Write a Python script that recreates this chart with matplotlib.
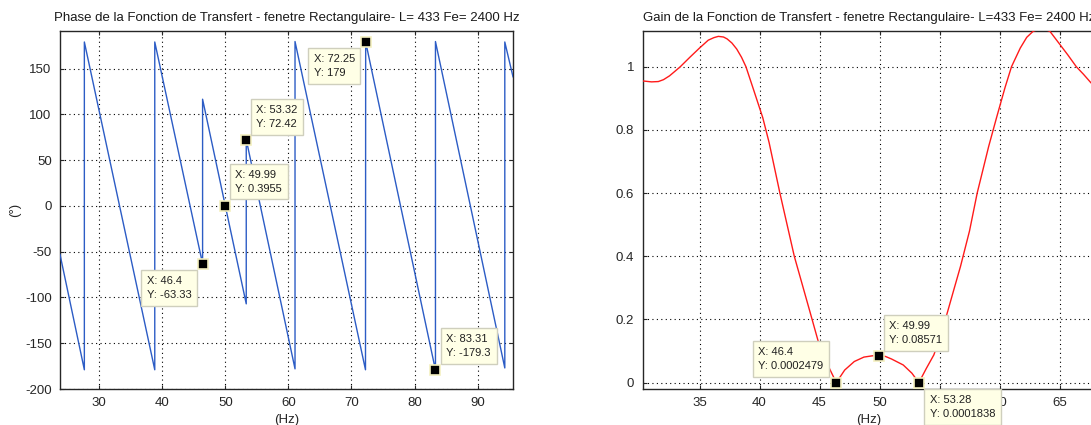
import matplotlib
matplotlib.use("Agg")
import matplotlib.pyplot as plt

plt.rcParams['font.family'] = ['Liberation Sans', 'DejaVu Sans']
plt.rcParams['axes.unicode_minus'] = False

# ---------------- data ----------------
# phase polyline vertices (Hz, degrees)
phase_freq = [23.8, 27.66, 27.66, 38.82, 38.82, 46.4, 46.4, 49.99, 53.32, 53.32,
              61.05, 61.05, 72.22, 72.25, 83.31, 83.31, 94.3, 94.3, 95.6]
phase_deg = [-53, -179, 179, -179, 179, -63.33, 116.5, 0.3955, -107, 72.42,
             -178, 179.5, -179, 179, -179.3, 179.5, -177, 179, 141]

# gain curve (Hz, linear gain)
gain_freq = [30.25, 31.0, 31.57, 32.0, 32.5, 33.0, 33.4, 34.2, 35.0, 35.73, 36.2,
             36.57, 37.0, 37.3, 37.7, 38.1, 38.5, 38.87, 39.49, 40.27, 40.8,
             41.7, 42.3, 42.9, 43.45, 44.2, 44.9, 45.7, 46.4,
             47.1, 47.9, 48.7, 49.4, 49.99, 50.5, 51.0, 51.98, 52.7, 53.28,
             53.9, 54.53, 55.1, 55.64, 56.2, 56.75, 57.5, 58.14, 59.1, 59.77,
             60.46, 61.0, 61.73, 62.27, 62.8, 63.5, 64.2, 65.0, 65.7, 66.4,
             67.0, 67.6, 68.5]
gain_val = [0.955, 0.952, 0.953, 0.959, 0.971, 0.987, 1.000, 1.030, 1.059, 1.084,
            1.092, 1.096, 1.094, 1.088, 1.075, 1.056, 1.030, 1.000, 0.929, 0.839,
            0.760, 0.600, 0.500, 0.400, 0.326, 0.225, 0.130, 0.055, 0.0002479,
            0.040, 0.067, 0.081, 0.085, 0.08571, 0.083, 0.075, 0.056, 0.030,
            0.0001838, 0.045, 0.088, 0.150, 0.220, 0.295, 0.368, 0.480, 0.600,
            0.748, 0.841, 0.934, 1.000, 1.059, 1.093, 1.112, 1.122, 1.112, 1.072,
            1.037, 1.000, 0.976, 0.950, 0.915]

# data tips: (x, y, label, box offset in pixels (dx right, dy down))
phase_tips_x = [46.4, 49.99, 53.32, 72.25, 83.31]
phase_tips_y = [-63.33, 0.3955, 72.42, 179, -179.3]
phase_tips_lbl = ["X: 46.4\nY: -63.33", "X: 49.99\nY: 0.3955", "X: 53.32\nY: 72.42",
                  "X: 72.25\nY: 179", "X: 83.31\nY: -179.3"]
phase_tips_off = [(-62, 6), (4, -42), (4, -41), (-58, 6), (5, -42)]

gain_tips_x = [46.4, 49.99, 53.28]
gain_tips_y = [0.0002479, 0.08571, 0.0001838]
gain_tips_lbl = ["X: 46.4\nY: 0.0002479", "X: 49.99\nY: 0.08571", "X: 53.28\nY: 0.0001838"]
gain_tips_off = [(-84, -42), (4, -41), (5, 6)]

phase_xticks = [30, 40, 50, 60, 70, 80, 90]
phase_yticks = [-200, -150, -100, -50, 0, 50, 100, 150]
gain_xticks = [35, 40, 45, 50, 55, 60, 65]
gain_yticks = [0, 0.2, 0.4, 0.6, 0.8, 1.0]
gain_yticklabels = ["0", "0.2", "0.4", "0.6", "0.8", "1"]

# ---------------- figure ----------------
W, H = 1091, 425
fig = plt.figure(figsize=(W / 100, H / 100), dpi=100)
axw = 453 / W
axh = 358 / H
axb = 1 - 389 / H
ax1 = fig.add_axes([60 / W, axb, axw, axh])
ax2 = fig.add_axes([642.5 / W, axb, axw, axh])

TICKFS = 9.5
TITLEFS = 9.5
TIPFS = 8


def style(ax):
    ax.grid(True, color='black', linestyle=(0, (1, 3)), linewidth=0.8)
    ax.tick_params(direction='in', length=3, width=0.8, labelsize=TICKFS,
                   colors='#262626', pad=6, top=True, right=True)
    for s in ax.spines.values():
        s.set_color('#262626')
        s.set_linewidth(1.0)


def tips(ax, xs, ys, labels, offs):
    pad_px = 6
    for x, y, lbl, (dx, dy) in zip(xs, ys, labels, offs):
        ax.plot([x], [y], marker='s', markersize=7.5, markerfacecolor='black',
                markeredgecolor='#f4f0c0', markeredgewidth=1.2, linestyle='none',
                zorder=6, clip_on=False)
        ax.annotate(lbl, xy=(x, y), xytext=(dx + pad_px, -(dy + pad_px)),
                    textcoords='offset pixels', ha='left', va='top',
                    fontsize=TIPFS, color='#202020', linespacing=1.55,
                    annotation_clip=False, zorder=7,
                    bbox=dict(boxstyle='square,pad=0.5', facecolor='#ffffe6',
                              edgecolor='#cfcfbd', linewidth=1.0))


# phase
ax1.plot(phase_freq, phase_deg, color='#2c5cc5', linewidth=1.0, zorder=3)
ax1.set_xlim(23.8, 95.6)
ax1.set_ylim(-200, 191)
ax1.set_xticks(phase_xticks)
ax1.set_yticks(phase_yticks)
style(ax1)
ax1.set_title("Phase de la Fonction de Transfert - fenetre Rectangulaire- L= 433 Fe= 2400 Hz",
              fontsize=TITLEFS, color='#1a1a1a', pad=7)
ax1.set_xlabel("(Hz)", fontsize=TICKFS, color='#262626', labelpad=3)
ax1.set_ylabel("(°)", fontsize=TICKFS, color='#262626', labelpad=3)
tips(ax1, phase_tips_x, phase_tips_y, phase_tips_lbl, phase_tips_off)

# gain
ax2.plot(gain_freq, gain_val, color='#ff1a1a', linewidth=1.0, zorder=3)
ax2.set_xlim(30.25, 68.0)
ax2.set_ylim(-0.02, 1.113)
ax2.set_xticks(gain_xticks)
ax2.set_yticks(gain_yticks)
ax2.set_yticklabels(gain_yticklabels)
style(ax2)
ax2.set_title("Gain de la Fonction de Transfert - fenetre Rectangulaire- L=433 Fe= 2400 Hz",
              fontsize=TITLEFS, color='#1a1a1a', pad=7)
ax2.set_xlabel("(Hz)", fontsize=TICKFS, color='#262626', labelpad=3)
tips(ax2, gain_tips_x, gain_tips_y, gain_tips_lbl, gain_tips_off)

fig.savefig("out.png", dpi=100)
